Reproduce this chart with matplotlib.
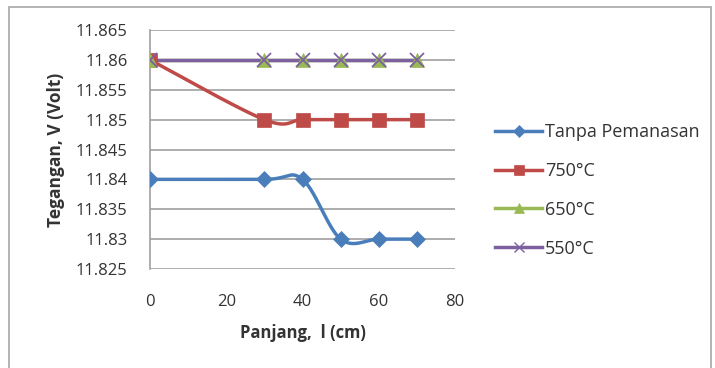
import numpy as np
import matplotlib.pyplot as plt
from matplotlib.patches import Rectangle

plt.rcParams['font.family'] = ['Open Sans', 'DejaVu Sans']

# data
panjang = [0, 30, 40, 50, 60, 70]
tanpa = [11.84, 11.84, 11.84, 11.83, 11.83, 11.83]
t750 = [11.86, 11.85, 11.85, 11.85, 11.85, 11.85]
t650 = [11.86, 11.86, 11.86, 11.86, 11.86, 11.86]
t550 = [11.86, 11.86, 11.86, 11.86, 11.86, 11.86]
labels = ['Tanpa Pemanasan', '750°C', '650°C', '550°C']
colors = ['#4A7EBB', '#BE4B48', '#98B954', '#7D60A0']
markers = ['D', 's', '^', 'x']


def smooth(x, y, n=30):
    # excel-like smoothed line (catmull-rom bezier)
    x = np.asarray(x, float)
    y = np.asarray(y, float)
    px, py = [], []
    for i in range(len(x) - 1):
        x0, y0 = (x[i - 1], y[i - 1]) if i > 0 else (x[i], y[i])
        x3, y3 = (x[i + 2], y[i + 2]) if i + 2 < len(x) else (x[i + 1], y[i + 1])
        x1, y1, x2, y2 = x[i], y[i], x[i + 1], y[i + 1]
        c1x, c1y = x1 + (x2 - x0) / 6, y1 + (y2 - y0) / 6
        c2x, c2y = x2 - (x3 - x1) / 6, y2 - (y3 - y1) / 6
        t = np.linspace(0, 1, n)
        a, b, c, d = (1 - t) ** 3, 3 * (1 - t) ** 2 * t, 3 * (1 - t) * t ** 2, t ** 3
        px.extend(a * x1 + b * c1x + c * c2x + d * x2)
        py.extend(a * y1 + b * c1y + c * c2y + d * y2)
    return px, py


fig = plt.figure(figsize=(7.15, 3.68), dpi=100)
fig.patches.append(Rectangle((9 / 715, -0.05), 702 / 715, 1 - 7 / 368 + 0.05,
                             transform=fig.transFigure, fill=False,
                             edgecolor='#A6A6A6', lw=1.2))
ax = fig.add_axes([150 / 715, 1 - 269 / 368, 305 / 715, 239 / 368])

series = [tanpa, t750, t650, t550]
sizes = [8.5, 10, 9.5, 9.5]
for ys, lab, c, m, s in zip(series, labels, colors, markers, sizes):
    sx, sy = smooth(panjang, ys)
    ax.plot(sx, sy, color=c, lw=2.5, zorder=3)
    ax.plot(panjang, ys, linestyle='none', marker=m, color=c, ms=s,
            mew=1.3 if m == 'x' else 0.5, zorder=4)
    ax.plot([], [], color=c, lw=2.5, marker=m, ms=s * 0.75,
            mew=1.0 if m == 'x' else 0.5, label=lab)

ax.set_xlim(0, 80)
ax.set_ylim(11.825, 11.865)
ax.set_xticks([0, 20, 40, 60, 80])
ax.set_yticks(np.arange(11.825, 11.8651, 0.005))
ax.set_yticklabels(['11.825', '11.83', '11.835', '11.84', '11.845',
                    '11.85', '11.855', '11.86', '11.865'])
ax.grid(axis='y', color='#A0A0A0', lw=1.2)
ax.set_axisbelow(True)
for sp in ['top', 'right', 'bottom']:
    ax.spines[sp].set_visible(False)
ax.spines['left'].set_color('#A0A0A0')
ax.spines['left'].set_linewidth(1.2)
ax.tick_params(length=0, labelsize=12, colors='#333333')
ax.tick_params(axis='y', pad=16)
ax.tick_params(axis='x', pad=18)
ax.set_xlabel('Panjang,  l (cm)', fontsize=12, fontweight='bold', color='#333333', labelpad=10)
ax.set_ylabel('Tegangan, V (Volt)', fontsize=12.5, fontweight='bold', color='#333333', labelpad=8)

ax.legend(loc='upper left', bbox_to_anchor=(479 / 715, 1 - 107 / 368),
          bbox_transform=fig.transFigure, frameon=False, fontsize=13,
          handlelength=2.6, labelspacing=1.15, handletextpad=0.15,
          labelcolor='#333333')

fig.savefig('out.png', dpi=100)
